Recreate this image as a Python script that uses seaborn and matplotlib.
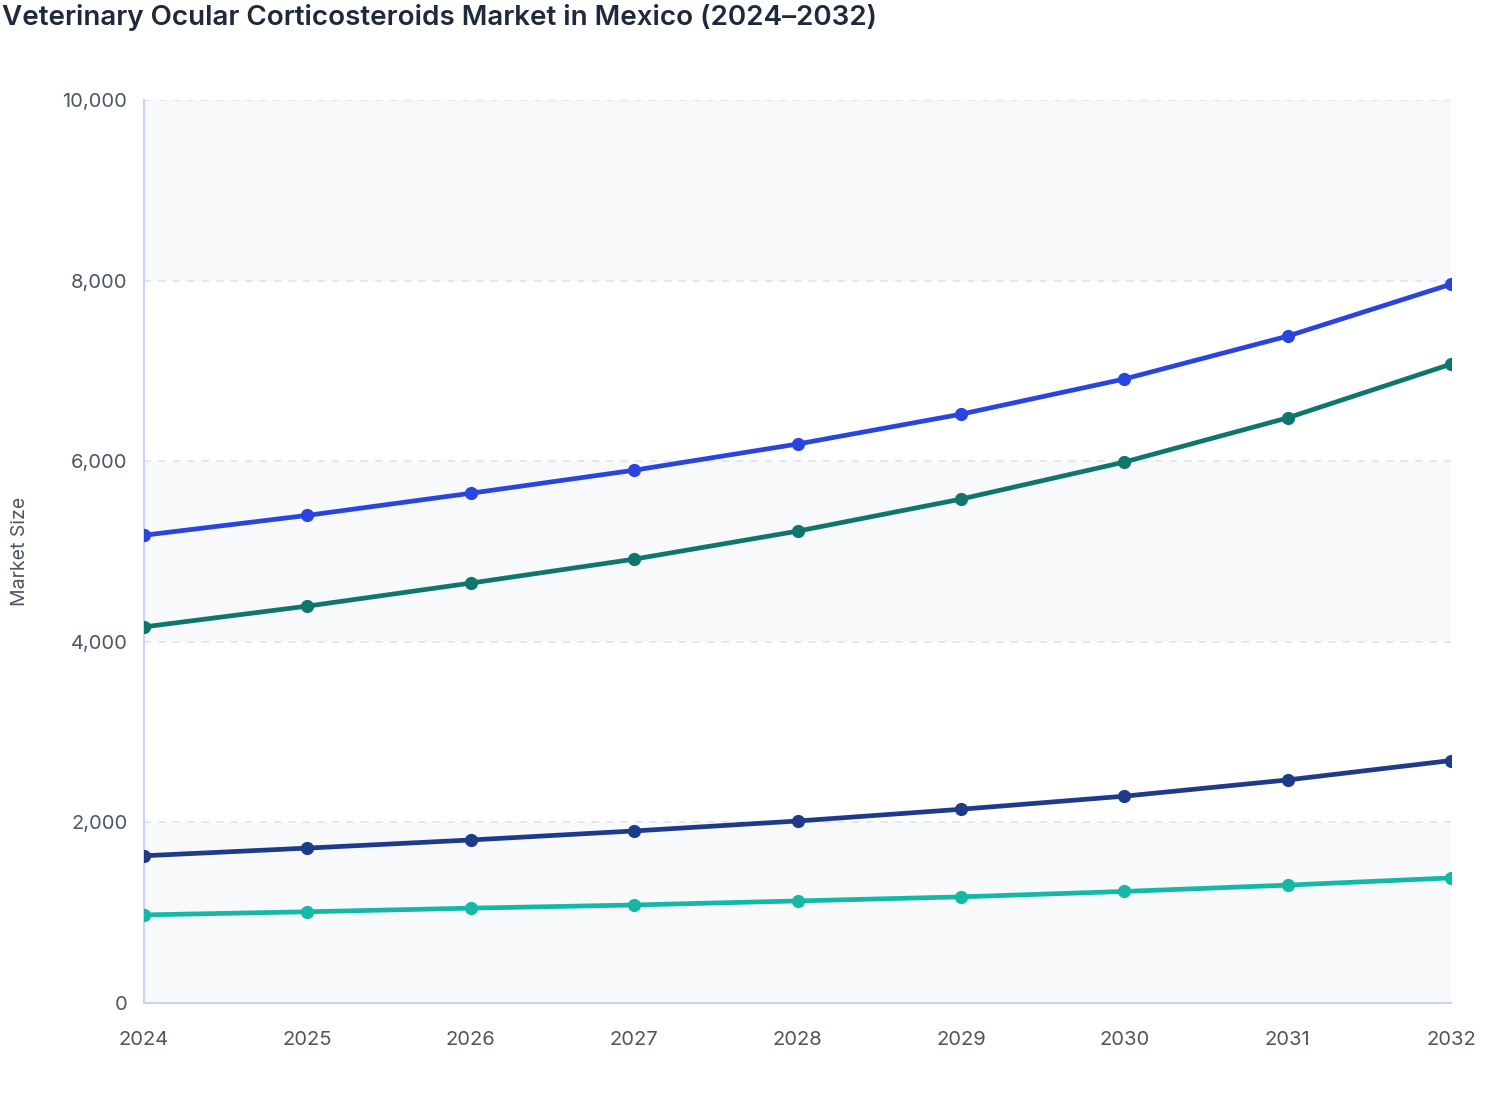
import pandas as pd
import matplotlib.pyplot as plt
import seaborn as sns
from matplotlib.ticker import FuncFormatter

# ------------------------------
# Data
# ------------------------------
years = [2024, 2025, 2026, 2027, 2028, 2029, 2030, 2031, 2032]

series_a = [5180, 5400, 5645, 5900, 6190, 6520, 6910, 7385, 7960]
series_b = [4165, 4395, 4650, 4915, 5225, 5580, 5990, 6480, 7075]
series_c = [1630, 1715, 1805, 1905, 2015, 2145, 2290, 2470, 2685]
series_d = [975, 1010, 1050, 1085, 1130, 1175, 1235, 1305, 1385]

series_names = ["Series A", "Series B", "Series C", "Series D"]
colors = ["#2a44e0", "#0f766e", "#1e3a8a", "#14b8a6"]

y_ticks = [0, 2000, 4000, 6000, 8000, 10000]

df = pd.DataFrame({
    "year": years * 4,
    "value": series_a + series_b + series_c + series_d,
    "series": sum([[n] * len(years) for n in series_names], []),
})

# ------------------------------
# Plot
# ------------------------------
sns.set_style("white")
plt.rcParams['font.family'] = ['Inter', 'DejaVu Sans']

fig = plt.figure(figsize=(15.08, 11.2), dpi=100)
ax = fig.add_axes([0.0955, 0.1045, 0.8667, 0.8062])

# alternating horizontal bands
for i in range(len(y_ticks) - 1):
    if i % 2 == 0:
        ax.axhspan(y_ticks[i], y_ticks[i + 1], color="#f8f9fb", zorder=0, lw=0)

for v in y_ticks[1:]:
    ax.axhline(v, color="#e2e5ea", lw=1.3, ls=(0, (4, 4)), zorder=1)

sns.lineplot(data=df, x="year", y="value", hue="series", palette=colors,
             marker="o", markersize=9.5, markeredgewidth=0, linewidth=3.4,
             legend=False, ax=ax, zorder=3)

ax.set_xlim(years[0], years[-1])
ax.set_ylim(0, 10000)
ax.set_xticks(years)
ax.set_yticks(y_ticks)
ax.yaxis.set_major_formatter(FuncFormatter(lambda v, p: f"{int(v):,}"))

for s in ["top", "right"]:
    ax.spines[s].set_visible(False)
for s in ["left", "bottom"]:
    ax.spines[s].set_color("#c7d4f7")
    ax.spines[s].set_linewidth(1.5)
ax.spines["left"].set_zorder(2)

ax.tick_params(axis="both", colors="#c7d4f7", length=8, width=1.5,
               labelcolor="#4b5563", labelsize=14.5)
ax.tick_params(axis="x", pad=12)
ax.tick_params(axis="y", pad=4)

ax.set_xlabel("")
ax.set_ylabel("Market Size", fontsize=14, color="#4b5563")
ax.yaxis.set_label_coords(-0.088, 0.5)

fig.text(0.0015, 0.984, "Veterinary Ocular Corticosteroids Market in Mexico (2024\u20132032)",
         fontsize=20, fontweight="semibold", color="#1e293b", ha="left", va="center")

fig.savefig("out.png", dpi=100)
